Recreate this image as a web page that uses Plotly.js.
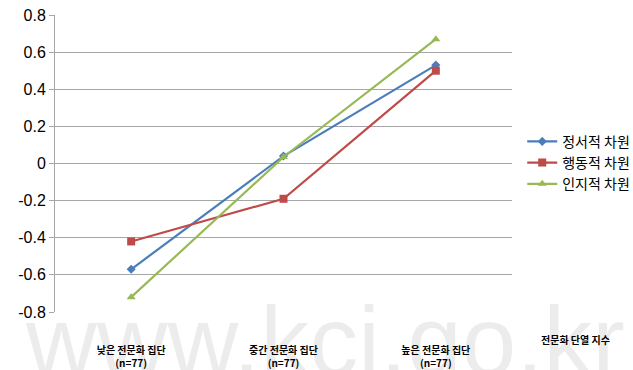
<!DOCTYPE html>
<html><head><meta charset="utf-8">
<script src="https://cdn.plot.ly/plotly-3.0.1.min.js"></script>
<style>body{margin:0;background:#fff}#c{width:633px;height:370px}</style>
</head><body><div id="c"></div>
<script>
const categories = ["낮은 전문화 집단<br>(n=77)", "중간 전문화 집단<br>(n=77)", "높은 전문화 집단<br>(n=77)"];
const seriesNames = ["정서적 차원", "행동적 차원", "인지적 차원"];
const emotional = [-0.57, 0.04, 0.53];
const behavioral = [-0.42, -0.19, 0.50];
const cognitive = [-0.72, 0.035, 0.67];
const yTicks = [-0.8, -0.6, -0.4, -0.2, 0, 0.2, 0.4, 0.6, 0.8];
const yTickText = ["-0.8", "-0.6", "-0.4", "-0.2", "0", "0.2", "0.4", "0.6", "0.8"];
const xTitle = "전문화 단열 지수";
const watermark = "www.kci.go.kr";

const colors = ["#4a7ebb", "#be4b48", "#98b954"];
const symbols = ["diamond", "square", "triangle-up"];
const sizes = [7, 8, 8];
const data = [emotional, behavioral, cognitive].map((v, i) => ({
  type: "scatter", mode: "lines+markers", x: categories, y: v, name: seriesNames[i],
  line: {color: colors[i], width: 2.2}, marker: {color: colors[i], symbol: symbols[i], size: sizes[i]}
}));

const layout = {
  width: 633, height: 370,
  margin: {l: 55, r: 121, t: 15, b: 58},
  paper_bgcolor: "#fff", plot_bgcolor: "#fff",
  font: {family: "Liberation Sans, Arial, sans-serif", color: "#000"},
  showlegend: true,
  legend: {xref: "container", yref: "container", x: 0.825, xanchor: "left", y: 0.66, yanchor: "top",
    font: {size: 14, family: "Noto Sans CJK KR, sans-serif"}, tracegroupgap: 0, itemwidth: 30},
  xaxis: {type: "category", range: [-0.5, 2.5], showgrid: false, zeroline: false, showline: false, ticks: "",
    ticklabelstandoff: 31, automargin: false,
    tickfont: {size: 10, family: "Noto Sans CJK KR, sans-serif", weight: "bold"}},
  yaxis: {range: [-0.8, 0.8], tickvals: yTicks, ticktext: yTickText, showgrid: true, gridcolor: "#a6a6a6", gridwidth: 1,
    zeroline: false, showline: true, linecolor: "#a6a6a6", ticks: "outside", ticklen: 5, tickcolor: "#a6a6a6",
    automargin: false,
    tickfont: {size: 16, family: "Liberation Sans, Arial, sans-serif"}},
  annotations: [
    {text: watermark, xref: "paper", yref: "paper", x: -0.07, y: 0.095, xanchor: "left", yanchor: "top",
     showarrow: false, font: {size: 98, color: "rgba(0,0,0,0.075)", family: "Liberation Sans, Arial, sans-serif"}},
    {text: xTitle, xref: "paper", yref: "paper", x: 1.138, y: -0.094, xanchor: "center", yanchor: "middle",
     showarrow: false, font: {size: 10, family: "Noto Sans CJK KR, sans-serif", weight: "bold"}}
  ]
};
Plotly.newPlot("c", data, layout, {displayModeBar: false});
</script></body></html>
